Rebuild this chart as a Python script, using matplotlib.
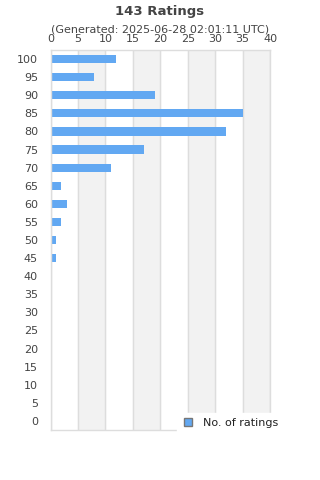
import matplotlib.pyplot as plt
from matplotlib.lines import Line2D

scores = [100, 95, 90, 85, 80, 75, 70, 65, 60, 55, 50, 45, 40, 35, 30, 25, 20, 15, 10, 5, 0]
counts = [12, 8, 19, 35, 32, 17, 11, 2, 3, 2, 1, 1, 0, 0, 0, 0, 0, 0, 0, 0, 0]
x_ticks = [0, 5, 10, 15, 20, 25, 30, 35, 40]

text_color = "#444444"
bar_color = "#62a8f2"
grid_color = "#dddddd"

fig = plt.figure(figsize=(3.2, 4.8), dpi=100)
ax = fig.add_axes([50.5 / 320, 1 - 430 / 480, 219.5 / 320, 380 / 480])

positions = list(range(len(scores)))[::-1]
for lo in range(5, 40, 10):
    ax.axvspan(lo, lo + 5, color="#f2f2f2", zorder=0)
for t in x_ticks:
    ax.axvline(t, color=grid_color, lw=1, zorder=1)

ax.barh(positions, counts, height=0.45, color=bar_color, zorder=2)

ax.set_xlim(0, 40)
ax.set_ylim(-0.5, len(scores) - 0.5)
ax.set_yticks(positions)
ax.set_yticklabels([str(s) for s in scores])
ax.set_xticks(x_ticks)
ax.xaxis.tick_top()
ax.tick_params(axis="both", length=0, labelsize=8, colors=text_color)
ax.tick_params(axis="x", pad=4.5)
ax.tick_params(axis="y", pad=9)
for spine in ax.spines.values():
    spine.set_color(grid_color)
    spine.set_linewidth(1)

fig.text(0.5, 1 - 11 / 480, "143 Ratings", ha="center", va="center",
         fontsize=9.5, fontweight="bold", color=text_color)
fig.text(0.5, 1 - 30 / 480, "(Generated: 2025-06-28 02:01:11 UTC)", ha="center",
         va="center", fontsize=8, color=text_color)

# legend sits over the lower right corner of the plot, on a white box
handle = Line2D([], [], marker="s", linestyle="none", markersize=5.5,
                markerfacecolor=bar_color, markeredgecolor="#777777")
leg = fig.legend([handle], ["No. of ratings"], loc="upper left",
                 bbox_to_anchor=(177 / 320, 1 - 413 / 480), borderaxespad=0,
                 frameon=True, fontsize=8, handlelength=1.0, handletextpad=0.87,
                 borderpad=0.45, fancybox=False)
leg.get_frame().set_edgecolor("white")
leg.get_frame().set_facecolor("white")
leg.get_frame().set_alpha(1)
leg.set_zorder(5)
for txt in leg.get_texts():
    txt.set_color("#222222")

fig.savefig("out.png", dpi=100)
